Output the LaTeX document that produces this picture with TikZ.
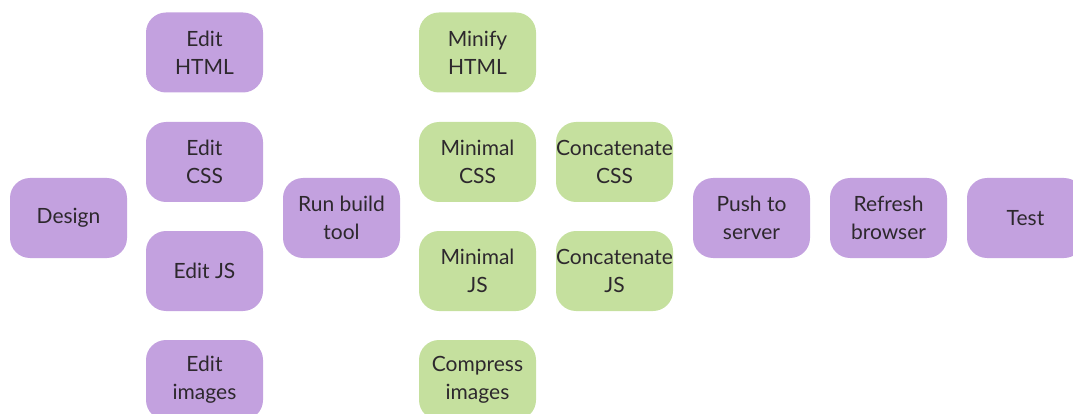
\documentclass[tikz,border=0pt]{standalone}
\usepackage{fontspec}
\setmainfont{Lato}
\definecolor{purplebox}{RGB}{195,161,223}
\definecolor{greenbox}{RGB}{197,224,158}
\definecolor{inktext}{RGB}{45,40,45}
\tikzset{
  x=1pt, y=-1pt,
  taskbox/.style={rounded corners=20pt, minimum width=117pt, minimum height=80pt,
    inner sep=0pt, align=center, text=inktext, font=\fontsize{21}{28}\selectfont},
  manual/.style={taskbox, fill=purplebox},
  automated/.style={taskbox, fill=greenbox}
}
\begin{document}
\begin{tikzpicture}
\useasboundingbox (0,0) rectangle (1073,414);
\clip (0,0) rectangle (1073,414);
% hand-done steps
\node[manual] (design) at (68.5,218) {Design};
\node[manual] (html) at (204.5,52.5) {Edit\\HTML};
\node[manual] (css) at (204.5,162) {Edit\\CSS};
\node[manual] (js) at (204.5,271) {Edit JS};
\node[manual] (img) at (204.5,380) {Edit\\images};
\node[manual] (build) at (341.5,218) {Run build\\tool};
% steps done by the build tool
\node[automated] (minhtml) at (477.5,52.5) {Minify\\HTML};
\node[automated] (mincss) at (477.5,162) {Minimal\\CSS};
\node[automated] (minjs) at (477.5,271) {Minimal\\JS};
\node[automated] (cmpimg) at (477.5,380) {Compress\\images};
\node[automated] (catcss) at (614.5,162) {Concatenate\\CSS};
\node[automated] (catjs) at (614.5,271) {Concatenate\\JS};
% deployment
\node[manual] (push) at (751.5,218) {Push to\\server};
\node[manual] (refresh) at (888.5,218) {Refresh\\browser};
\node[manual] (test) at (1025.5,218) {Test};
\end{tikzpicture}
\end{document}
